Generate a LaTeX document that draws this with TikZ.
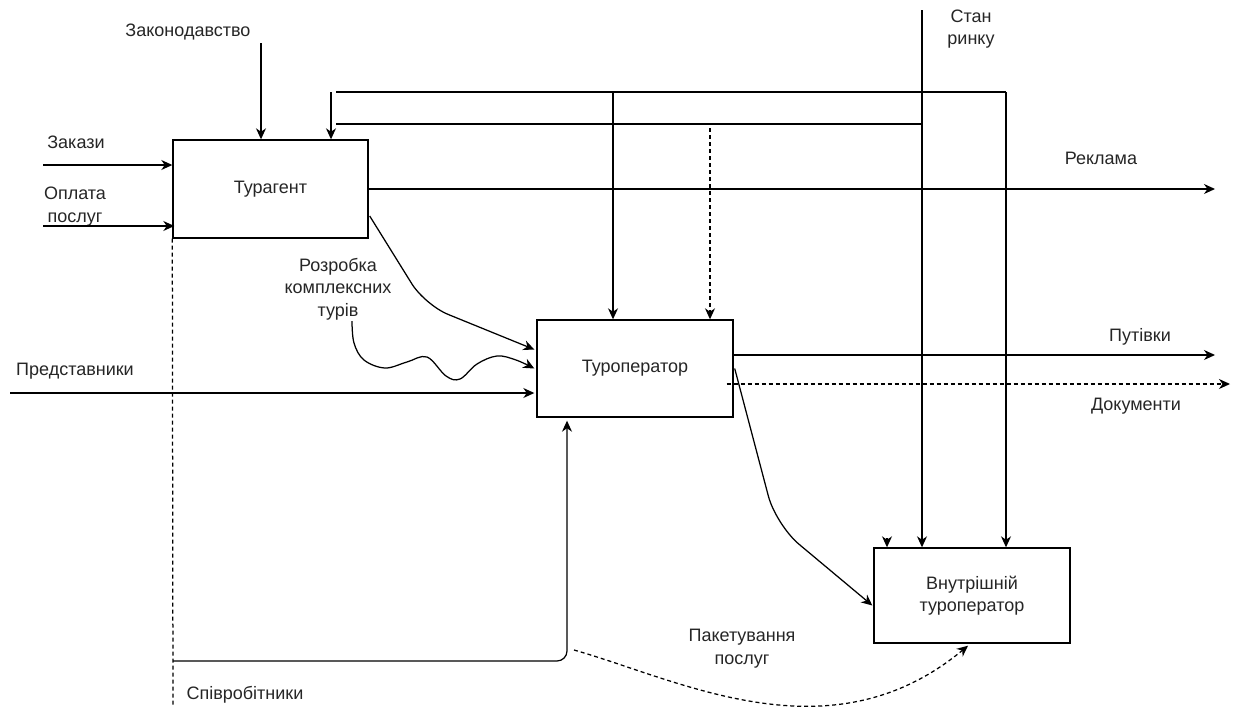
\documentclass[tikz,border=0pt]{standalone}
\usepackage{fontspec}
\setmainfont{Liberation Sans}
\usetikzlibrary{arrows.meta,calc}
\begin{document}
\begin{tikzpicture}[x=1pt,y=-1pt,
  font=\fontsize{18}{22.5}\selectfont,
  box/.style={draw, line width=1.4pt, inner sep=0pt, align=center, text=black!85},
  arr/.style={line width=1.25pt, -{Stealth[length=11pt,width=10pt,inset=3.5pt]}},
  ln/.style={line width=1.25pt},
  dsh/.style={line width=1.25pt, dash pattern=on 4pt off 3pt},
  lbl/.style={inner sep=0pt, align=center, text=black!85}]
\useasboundingbox (0,0) rectangle (1235,707);
\fill[white] (0,0) rectangle (1235,707);

% boxes
\node[box, minimum width=195pt, minimum height=98pt] (ta) at (270.5,189) {Турагент};
\node[box, minimum width=196pt, minimum height=97pt] (ts) at (635,368.5) {Туроператор};
\node[box, minimum width=196pt, minimum height=95pt] (vt) at (972,595.5) {Внутрішній\\туроператор};

% labels
\node[lbl] (lzak) at (188,32) {Законодавство};
\node[lbl] (lzakazy) at (76,142) {Закази};
\node[lbl] (lopl) at (75,206.5) {Оплата\\послуг};
\node[lbl] (lpred) at (75,371) {Представники};
\node[lbl] (lroz) at (338,289) {Розробка\\комплексних\\турів};
\node[lbl] (lstan) at (971,29) {Стан\\ринку};
\node[lbl] (lrek) at (1101,158) {Реклама};
\node[lbl] (lput) at (1140,337) {Путівки};
\node[lbl] (ldoc) at (1136,406) {Документи};
\node[lbl] (lpak) at (742,648.5) {Пакетування\\послуг};
\node[lbl] (lspiv) at (245,695) {Співробітники};

% coordinates
\coordinate (zakTop) at (261,43);
\coordinate (zakIn) at (43,165);
\coordinate (oplIn) at (43,226);
\coordinate (predIn) at (10,393);
\coordinate (c1) at (331,92);
\coordinate (top1) at (336,92);
\coordinate (top1r) at (1006,92);
\coordinate (top2) at (336,124);
\coordinate (stan) at (922,10);
\coordinate (stanJ) at (922,124);
\coordinate (v613) at (613,92);
\coordinate (v710) at (710,128);
\coordinate (rekOut) at (1215,189);
\coordinate (putOut) at (1215,355);
\coordinate (docOut) at (1230,384);
\coordinate (stub) at (887,538);
\coordinate (spivB) at (173,710);
\coordinate (spivJ) at (173,661);
\coordinate (spivC) at (567,661);

% inputs to Турагент
\draw[arr] (zakTop) -- (zakTop |- ta.north);
\draw[arr] (zakIn) -- (zakIn -| ta.west);
\draw[arr] (oplIn) -- ($(oplIn -| ta.west)+(2,0)$);
\draw[arr] (c1) -- (c1 |- ta.north);

% top control lines
\draw[ln] (top1) -- (top1r);
\draw[arr] (top1r) -- (top1r |- vt.north);
\draw[ln] (top2) -- (stanJ);
\draw[arr] (stan) -- (stan |- vt.north);
\draw[arr] (v613) -- (v613 |- ts.north);
\draw[arr, dsh] (v710) -- (v710 |- ts.north);
\draw[arr] (stub) -- (stub |- vt.north);

% Турагент outputs
\draw[arr] (ta.east) -- (rekOut);
\draw[arr, rounded corners=25pt] ($(ta.east)+(1,27)$) -- (425,305) -- ($(ts.west)+(-2,-19)$);

% wavy line
\draw[arr] plot[smooth, tension=0.6] coordinates {(352,321) (354,343) (364,360) (385,368) (407,362) (427,357) (446,376) (460,379) (477,364) (497,356) (516,360) ($(ts.west)+(-2,0)$)};

% Представники
\draw[arr] (predIn) -- ($(predIn -| ts.west)+(-2,0)$);

% Туроператор outputs
\draw[arr] (putOut -| ts.east) -- (putOut);
\draw[arr, dsh] ($(docOut -| ts.east)+(-7,0)$) -- (docOut);
\draw[arr, rounded corners=30pt] ($(ts.east)+(1,0)$) -- (776,525) -- ($(vt.west)+(-1,10)$);

% Співробітники
\draw[dsh] (ta.south west) -- (spivB);
\draw[arr, rounded corners=10pt] (spivJ) -- (spivC) -- ($(spivC |- ts.south)+(0,3)$);

% Пакетування послуг
\draw[arr, dsh] (574,650) .. controls (680,680) and (830,760) .. ($(vt.south)+(-4,2)$);
\end{tikzpicture}
\end{document}
